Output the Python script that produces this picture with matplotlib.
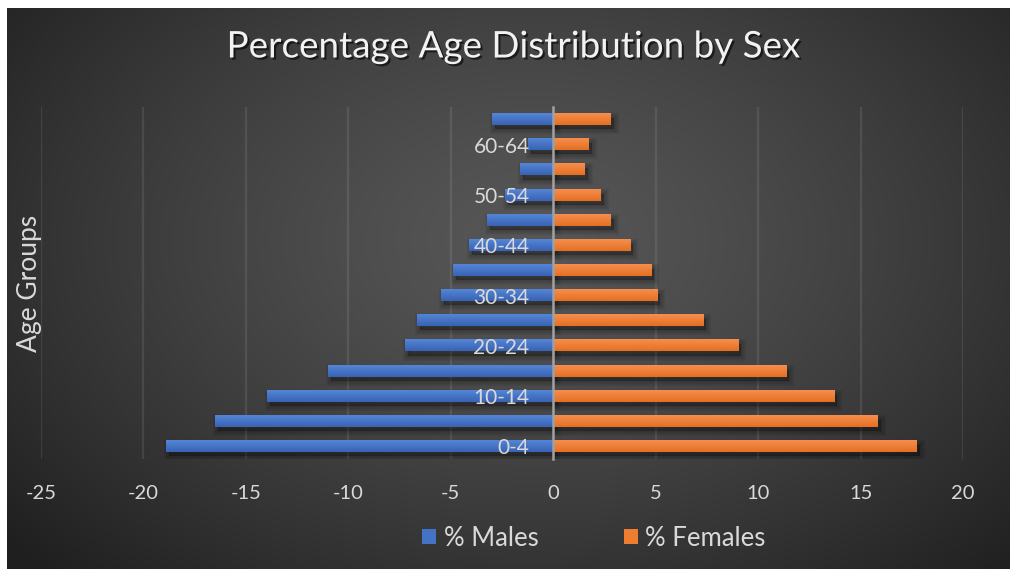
import numpy as np
import matplotlib
matplotlib.use("Agg")
import matplotlib.pyplot as plt
from matplotlib.patches import Patch
from matplotlib.colors import LinearSegmentedColormap
import matplotlib.patheffects as pe

# Age groups, youngest first
age_groups = ["0-4", "5-9", "10-14", "15-19", "20-24", "25-29", "30-34",
              "35-39", "40-44", "45-49", "50-54", "55-59", "60-64", "65+"]
# Percentage of each sex in each age group (males plotted as negatives)
males = [-18.9, -16.5, -13.95, -10.97, -7.22, -6.64, -5.47,
         -4.87, -4.1, -3.23, -2.35, -1.62, -1.23, -3.0]
females = [17.76, 15.86, 13.72, 11.38, 9.04, 7.34, 5.1,
           4.8, 3.78, 2.81, 2.32, 1.55, 1.74, 2.81]
x_ticks = [-25, -20, -15, -10, -5, 0, 5, 10, 15, 20]

W, H = 1010, 569
FONT = "Lato"
TXT = "#d9d9d9"
BLUE, ORANGE = "#4472C4", "#ED7D31"

fig = plt.figure(figsize=(W / 100, H / 100), dpi=100, facecolor="white")

# Dark radial-gradient chart area
bg = fig.add_axes([7 / W, 0, 1 - 7 / W, 1 - 8 / H], zorder=-10)
yy, xx = np.mgrid[8:H, 7:W].astype(float)
r = np.sqrt(((xx - 530) / 620) ** 2 + ((yy - 240) / 420) ** 2)
val = 0.34 - 0.19 * np.clip(r, 0, 1.1) ** 1.3
bg.imshow(np.dstack([val, val, val]), aspect="auto", interpolation="bilinear")
bg.axis("off")

ax = fig.add_axes([41 / W, 1 - 459 / H, (963 - 41) / W, (459 - 107) / H])
ax.set_facecolor("none")

ypos = np.arange(len(age_groups))
h = 0.44

# Soft drop shadow under each bar
shadow = [pe.SimplePatchShadow(offset=(2.0, -3.0), shadow_rgbFace="k", alpha=0.045,
                               linewidth=lw, foreground="k")
          for lw in (0, 1.5, 3, 4.5, 6, 7.5)] + [pe.Normal()]

def draw_series(values, base, light, dark):
    ax.barh(ypos, values, height=h, color=base, zorder=2, path_effects=shadow)
    cmap = LinearSegmentedColormap.from_list("g", [light, dark])
    grad = np.linspace(0, 1, 32).reshape(-1, 1)
    for y, v in zip(ypos, values):
        ax.imshow(grad, cmap=cmap, extent=(0, v, y - h / 2, y + h / 2),
                  aspect="auto", zorder=3, interpolation="bilinear")

draw_series(males, BLUE, "#5485d6", "#3963b5")
draw_series(females, ORANGE, "#f68e4e", "#e56f22")

ax.set_xlim(-25, 20)
ax.set_ylim(-0.5, len(age_groups) - 0.5)

# Vertical gridlines behind the bars
ax.set_xticks(x_ticks)
ax.set_xticklabels([str(t) for t in x_ticks])
ax.xaxis.grid(True, color="white", alpha=0.09, linewidth=1.6)
ax.xaxis.set_zorder(0.5)
ax.tick_params(axis="x", length=0, pad=19, labelsize=14.5, labelcolor=TXT)

# Category axis sits on zero, labelling every other group
ax.set_yticks(ypos[::2])
ax.set_yticklabels(age_groups[::2])
ax.tick_params(axis="y", length=0, pad=17, labelsize=15, labelcolor=TXT)
ax.yaxis.set_zorder(5)

for s in ("top", "right", "bottom"):
    ax.spines[s].set_visible(False)
ax.spines["left"].set_position(("data", 0))
ax.spines["left"].set_color("#a0a0a0")
ax.spines["left"].set_linewidth(1.8)
ax.spines["left"].set_zorder(4)

for lab in ax.get_xticklabels() + ax.get_yticklabels():
    lab.set_fontfamily(FONT)

fig.text(513 / W, 1 - 47 / H, "Percentage Age Distribution by Sex",
         ha="center", va="center", fontsize=26.5, color="#f2f2f2", family=FONT,
         path_effects=[pe.SimplePatchShadow(offset=(1.5, -1.5), shadow_rgbFace="k",
                                            alpha=0.6), pe.Normal()])

fig.text(30 / W, 1 - 283 / H, "Age Groups", rotation=90, ha="center", va="center",
         fontsize=19, color=TXT, family=FONT)

handles = [Patch(facecolor=BLUE), Patch(facecolor=ORANGE)]
fig.legend(handles, ["% Males", "% Females"], loc="center",
           bbox_to_anchor=(594 / W, 1 - 538 / H), ncol=2, frameon=False,
           prop={"family": FONT, "size": 18.5}, labelcolor=TXT,
           handlelength=0.55, handleheight=0.55, handletextpad=0.3,
           columnspacing=3.3)

fig.savefig("out.png", dpi=100, facecolor=fig.get_facecolor())
